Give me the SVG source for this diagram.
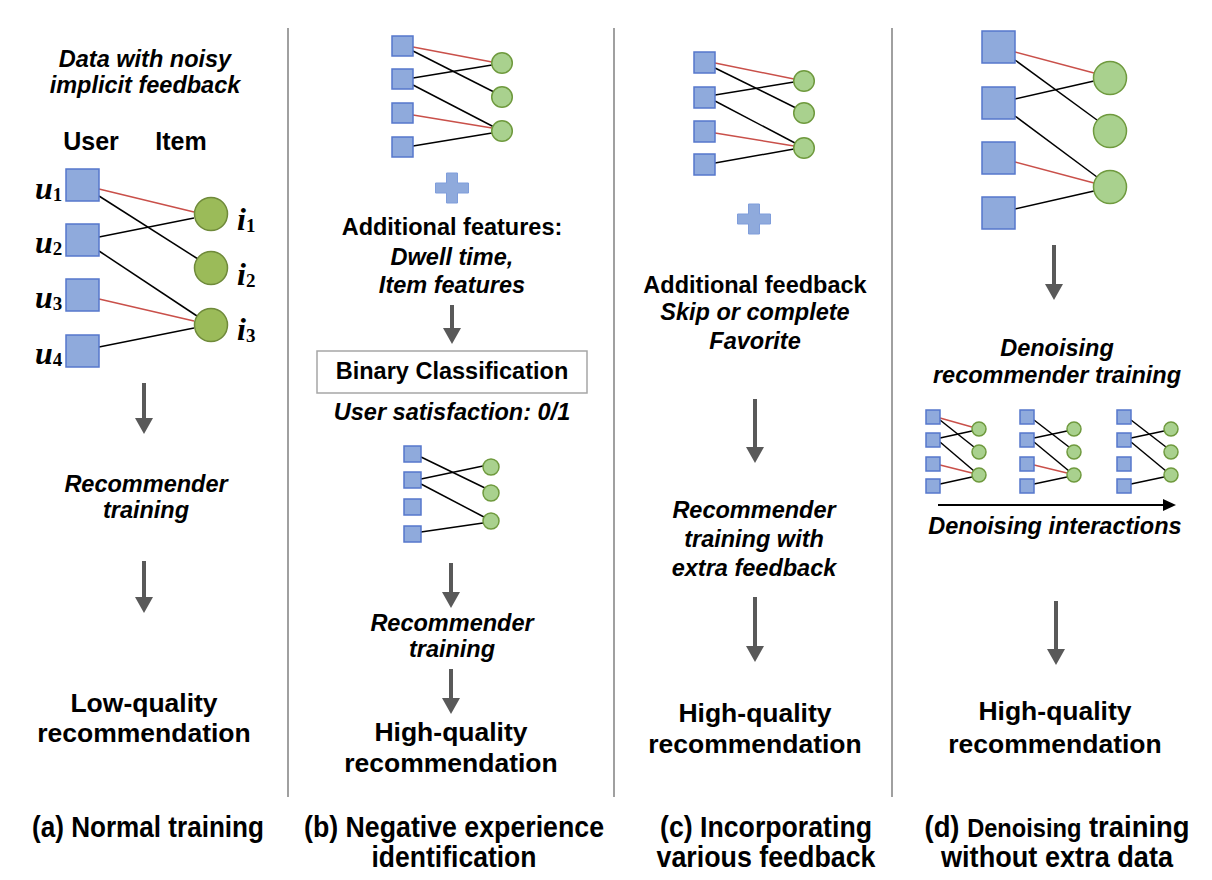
<svg xmlns="http://www.w3.org/2000/svg" width="1212" height="880" viewBox="0 0 1212 880">
<style>
.t{font-family:"Liberation Sans",Arial,sans-serif;font-weight:bold;text-anchor:middle;fill:#000}
.it{font-style:italic;font-size:23.5px}
.md{font-size:23.5px}
.hd{font-size:25px}
.big{font-size:26.5px}
.cap{font-size:29px}
.m{font-family:"Liberation Serif","Times New Roman",serif;font-weight:bold;font-style:italic;font-size:32px;fill:#000}
.sub{font-style:normal;font-size:19px}
.sq{fill:#8faadc;stroke:#5677cc;stroke-width:1.5}
.ci{fill:#a9d18e;stroke:#6f9a3e;stroke-width:1.5}
.ciA{fill:#9bbb59;stroke:#6f8a3a;stroke-width:1.5}
.e{stroke:#000;stroke-width:1.5;fill:none}
.r{stroke:#c9504a;stroke-width:1.5;fill:none}
.arr{stroke:#595959;stroke-width:4;fill:none;marker-end:url(#ah)}
.div{stroke:#808080;stroke-width:1.5}
.plus{fill:#8faadc;stroke:#7f9ddb;stroke-width:1}
</style>
<defs>
<marker id="ah" markerUnits="userSpaceOnUse" markerWidth="16" markerHeight="18" viewBox="0 0 16 18" refX="0" refY="9" orient="auto">
<path d="M0,0 L16,9 L0,18 z" fill="#595959"/>
</marker>
<marker id="ahk" markerUnits="userSpaceOnUse" markerWidth="13" markerHeight="12" viewBox="0 0 13 12" refX="0" refY="6" orient="auto">
<path d="M0,0 L13,6 L0,12 z" fill="#000"/>
</marker>
</defs>
<rect width="1212" height="880" fill="#fff"/>

<g id="dividers">
<line class="div" x1="288" y1="28" x2="288" y2="797"/>
<line class="div" x1="614" y1="28" x2="614" y2="797"/>
<line class="div" x1="892" y1="28" x2="892" y2="797"/>
</g>

<!-- Panel (a) -->
<g id="panel-a">
<text class="t it" x="145" y="67">Data with noisy</text>
<text class="t it" x="145" y="93">implicit feedback</text>
<text class="t hd" x="91" y="150">User</text>
<text class="t hd" x="181" y="150">Item</text>
<g id="a-edges">
<line class="r" x1="99" y1="189" x2="194" y2="212"/>
<line class="e" x1="99" y1="196" x2="198" y2="259"/>
<line class="e" x1="99" y1="237" x2="194" y2="218"/>
<line class="e" x1="99" y1="251" x2="197" y2="316"/>
<line class="r" x1="99" y1="299" x2="194" y2="321"/>
<line class="e" x1="99" y1="347" x2="194" y2="328"/>
</g>
<g id="a-u1"><rect class="sq" x="66" y="169" width="33" height="32"/><text class="m" x="35" y="199">u<tspan class="sub" dy="2">1</tspan></text></g>
<g id="a-u2"><rect class="sq" x="66" y="224" width="33" height="32"/><text class="m" x="35" y="253">u<tspan class="sub" dy="2">2</tspan></text></g>
<g id="a-u3"><rect class="sq" x="66" y="279" width="33" height="32"/><text class="m" x="35" y="308">u<tspan class="sub" dy="2">3</tspan></text></g>
<g id="a-u4"><rect class="sq" x="66" y="335" width="33" height="32"/><text class="m" x="35" y="364">u<tspan class="sub" dy="2">4</tspan></text></g>
<g id="a-i1"><circle class="ciA" cx="211" cy="214" r="16.5"/><text class="m" x="237" y="230">i<tspan class="sub" dy="2">1</tspan></text></g>
<g id="a-i2"><circle class="ciA" cx="211" cy="268" r="16.5"/><text class="m" x="237" y="285">i<tspan class="sub" dy="2">2</tspan></text></g>
<g id="a-i3"><circle class="ciA" cx="211" cy="325" r="16.5"/><text class="m" x="237" y="340">i<tspan class="sub" dy="2">3</tspan></text></g>
<text class="t it" x="146" y="492">Recommender</text>
<text class="t it" x="146" y="518">training</text>
<text class="t big" x="144" y="712">Low-quality</text>
<text class="t big" x="144" y="742">recommendation</text>
<text class="t cap" x="148" y="837" textLength="232" lengthAdjust="spacingAndGlyphs">(a) Normal training</text>
</g>

<!-- Panel (b) -->
<g id="panel-b">
<g id="b-graph">
<line class="r" x1="413" y1="47" x2="492" y2="62"/>
<line class="e" x1="413" y1="51" x2="494" y2="92"/>
<line class="e" x1="413" y1="78" x2="492" y2="65"/>
<line class="e" x1="413" y1="85" x2="494" y2="127"/>
<line class="r" x1="413" y1="115" x2="492" y2="128"/>
<line class="e" x1="413" y1="146" x2="492" y2="133"/>
<rect class="sq" x="392" y="36" width="21" height="20"/>
<rect class="sq" x="392" y="69" width="21" height="20"/>
<rect class="sq" x="392" y="103" width="21" height="20"/>
<rect class="sq" x="392" y="137" width="21" height="20"/>
<circle class="ci" cx="502" cy="63" r="10.3"/>
<circle class="ci" cx="502" cy="97" r="10.3"/>
<circle class="ci" cx="502" cy="131" r="10.3"/>
</g>
<path class="plus" d="M446.5,173 h11 v10 h11 v10 h-11 v10 h-11 v-10 h-11 v-10 h11 z"/>
<text class="t md" x="452" y="235">Additional features:</text>
<text class="t it" x="452" y="265">Dwell time,</text>
<text class="t it" x="452" y="293">Item features</text>
<g id="b-box">
<rect x="317" y="351" width="270" height="42" fill="#fff" stroke="#a6a6a6" stroke-width="1.5"/>
<text class="t md" x="452" y="379">Binary Classification</text>
</g>
<text class="t it" x="452" y="420">User satisfaction: 0/1</text>
<g id="b-graph2">
<line class="e" x1="421" y1="457" x2="485" y2="488"/>
<line class="e" x1="421" y1="479" x2="483" y2="466"/>
<line class="e" x1="421" y1="484" x2="484" y2="517"/>
<line class="e" x1="421" y1="532" x2="483" y2="523"/>
<rect class="sq" x="404" y="446" width="17" height="16"/>
<rect class="sq" x="404" y="472" width="17" height="16"/>
<rect class="sq" x="404" y="499" width="17" height="16"/>
<rect class="sq" x="404" y="526" width="17" height="16"/>
<circle class="ci" cx="491" cy="467" r="8"/>
<circle class="ci" cx="491" cy="493" r="8"/>
<circle class="ci" cx="491" cy="521" r="8"/>
</g>
<text class="t it" x="452" y="631">Recommender</text>
<text class="t it" x="452" y="657">training</text>
<text class="t big" x="451" y="741">High-quality</text>
<text class="t big" x="451" y="772">recommendation</text>
<text class="t cap" x="454" y="837" textLength="300" lengthAdjust="spacingAndGlyphs">(b) Negative experience</text>
<text class="t cap" x="454" y="867" textLength="165" lengthAdjust="spacingAndGlyphs">identification</text>
</g>

<!-- Panel (c) -->
<g id="panel-c">
<g id="c-graph">
<line class="r" x1="715" y1="63" x2="794" y2="79"/>
<line class="e" x1="715" y1="68" x2="796" y2="108"/>
<line class="e" x1="715" y1="95" x2="794" y2="82"/>
<line class="e" x1="715" y1="101" x2="795" y2="143"/>
<line class="r" x1="715" y1="133" x2="794" y2="146"/>
<line class="e" x1="715" y1="163" x2="794" y2="149"/>
<rect class="sq" x="694" y="52" width="21" height="21"/>
<rect class="sq" x="694" y="87" width="21" height="21"/>
<rect class="sq" x="694" y="121" width="21" height="21"/>
<rect class="sq" x="694" y="154" width="21" height="21"/>
<circle class="ci" cx="804" cy="81" r="10.3"/>
<circle class="ci" cx="804" cy="113" r="10.3"/>
<circle class="ci" cx="804" cy="148" r="10.3"/>
</g>
<path class="plus" d="M748.5,204 h11 v10 h11 v10 h-11 v10 h-11 v-10 h-11 v-10 h11 z"/>
<text class="t md" x="755" y="293">Additional feedback</text>
<text class="t it" x="755" y="320">Skip or complete</text>
<text class="t it" x="755" y="349">Favorite</text>
<text class="t it" x="754" y="518">Recommender</text>
<text class="t it" x="754" y="547">training with</text>
<text class="t it" x="754" y="576">extra feedback</text>
<text class="t big" x="755" y="722">High-quality</text>
<text class="t big" x="755" y="753">recommendation</text>
<text class="t cap" x="766" y="837" textLength="212" lengthAdjust="spacingAndGlyphs">(c) Incorporating</text>
<text class="t cap" x="766" y="867" textLength="219" lengthAdjust="spacingAndGlyphs">various feedback</text>
</g>

<!-- Panel (d) -->
<g id="panel-d">
<g id="d-graph">
<line class="r" x1="1015" y1="52" x2="1094" y2="73"/>
<line class="e" x1="1015" y1="60" x2="1097" y2="120"/>
<line class="e" x1="1015" y1="99" x2="1094" y2="81"/>
<line class="e" x1="1015" y1="116" x2="1097" y2="177"/>
<line class="r" x1="1015" y1="162" x2="1094" y2="183"/>
<line class="e" x1="1015" y1="209" x2="1094" y2="191"/>
<rect class="sq" x="982" y="31" width="33" height="32"/>
<rect class="sq" x="982" y="87" width="33" height="32"/>
<rect class="sq" x="982" y="142" width="33" height="32"/>
<rect class="sq" x="982" y="197" width="33" height="32"/>
<circle class="ci" cx="1110" cy="78" r="16.5"/>
<circle class="ci" cx="1110" cy="131" r="16.5"/>
<circle class="ci" cx="1110" cy="187" r="16.5"/>
</g>
<text class="t it" x="1057" y="356">Denoising</text>
<text class="t it" x="1057" y="383">recommender training</text>
<g id="d-step1">
<line class="r" x1="940" y1="418" x2="972" y2="427"/>
<line class="e" x1="940" y1="420" x2="974" y2="447"/>
<line class="e" x1="940" y1="438" x2="972" y2="431"/>
<line class="e" x1="940" y1="442" x2="974" y2="471"/>
<line class="r" x1="940" y1="465" x2="972" y2="473"/>
<line class="e" x1="940" y1="484" x2="972" y2="477"/>
<rect class="sq" x="926" y="410" width="14" height="14"/>
<rect class="sq" x="926" y="433" width="14" height="14"/>
<rect class="sq" x="926" y="457" width="14" height="14"/>
<rect class="sq" x="926" y="479" width="14" height="14"/>
<circle class="ci" cx="979" cy="429" r="7"/>
<circle class="ci" cx="979" cy="452" r="7"/>
<circle class="ci" cx="979" cy="475" r="7"/>
</g>
<g id="d-step2">
<line class="e" x1="1034" y1="420" x2="1069" y2="447"/>
<line class="e" x1="1034" y1="438" x2="1067" y2="431"/>
<line class="e" x1="1034" y1="442" x2="1069" y2="471"/>
<line class="r" x1="1034" y1="465" x2="1067" y2="473"/>
<line class="e" x1="1034" y1="484" x2="1067" y2="477"/>
<rect class="sq" x="1020" y="410" width="14" height="14"/>
<rect class="sq" x="1020" y="433" width="14" height="14"/>
<rect class="sq" x="1020" y="457" width="14" height="14"/>
<rect class="sq" x="1020" y="479" width="14" height="14"/>
<circle class="ci" cx="1074" cy="429" r="7"/>
<circle class="ci" cx="1074" cy="452" r="7"/>
<circle class="ci" cx="1074" cy="475" r="7"/>
</g>
<g id="d-step3">
<line class="e" x1="1131" y1="420" x2="1166" y2="447"/>
<line class="e" x1="1131" y1="438" x2="1164" y2="431"/>
<line class="e" x1="1131" y1="442" x2="1166" y2="471"/>
<line class="e" x1="1131" y1="484" x2="1164" y2="477"/>
<rect class="sq" x="1117" y="410" width="14" height="14"/>
<rect class="sq" x="1117" y="433" width="14" height="14"/>
<rect class="sq" x="1117" y="457" width="14" height="14"/>
<rect class="sq" x="1117" y="479" width="14" height="14"/>
<circle class="ci" cx="1171" cy="429" r="7"/>
<circle class="ci" cx="1171" cy="452" r="7"/>
<circle class="ci" cx="1171" cy="475" r="7"/>
</g>
<text class="t it" x="1055" y="534">Denoising interactions</text>
<text class="t big" x="1055" y="720">High-quality</text>
<text class="t big" x="1055" y="753">recommendation</text>
<text class="t cap" x="1057" y="837" textLength="265" lengthAdjust="spacingAndGlyphs">(d) <tspan font-size="25">Denoising</tspan> training</text>
<text class="t cap" x="1057" y="867" textLength="232" lengthAdjust="spacingAndGlyphs">without extra data</text>
</g>

<g id="connectors">
<line class="arr" x1="144" y1="383" x2="144" y2="418"/>
<line class="arr" x1="144" y1="561" x2="144" y2="597"/>
<line class="arr" x1="452" y1="305" x2="452" y2="328"/>
<line class="arr" x1="451" y1="563" x2="451" y2="592"/>
<line class="arr" x1="451" y1="669" x2="451" y2="698"/>
<line class="arr" x1="755" y1="399" x2="755" y2="447"/>
<line class="arr" x1="755" y1="597" x2="755" y2="646"/>
<line class="arr" x1="1054" y1="245" x2="1054" y2="284"/>
<line class="arr" x1="1056" y1="601" x2="1056" y2="649"/>
<line x1="938" y1="505" x2="1163" y2="505" stroke="#000" stroke-width="2" marker-end="url(#ahk)"/>
</g>
</svg>
